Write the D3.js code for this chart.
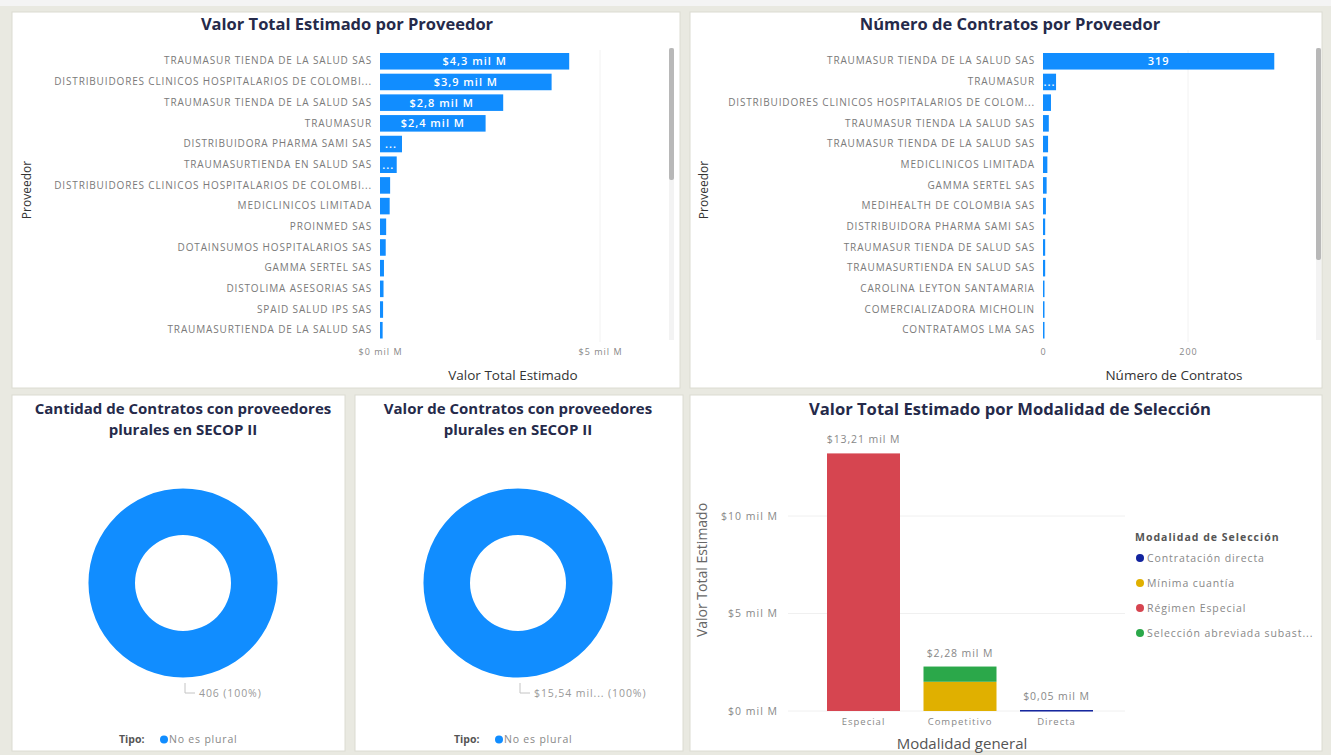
<!DOCTYPE html>
<html><head><meta charset="utf-8">
<script src="https://cdn.jsdelivr.net/npm/d3@7"></script>
<style>
body{margin:0;background:#e9e9e1;font-family:"Open Sans",sans-serif;}
svg{display:block}
</style></head><body>
<svg id="c" width="1331" height="755"></svg>
<script>
// ---------- DATA ----------
const provValor = ["TRAUMASUR TIENDA DE LA SALUD SAS","DISTRIBUIDORES CLINICOS HOSPITALARIOS DE COLOMBI...","TRAUMASUR TIENDA DE LA SALUD SAS","TRAUMASUR","DISTRIBUIDORA PHARMA SAMI SAS","TRAUMASURTIENDA EN SALUD SAS","DISTRIBUIDORES CLINICOS HOSPITALARIOS DE COLOMBI...","MEDICLINICOS LIMITADA","PROINMED SAS","DOTAINSUMOS HOSPITALARIOS SAS","GAMMA SERTEL SAS","DISTOLIMA ASESORIAS SAS","SPAID SALUD IPS SAS","TRAUMASURTIENDA DE LA SALUD SAS"];
const valorTotal = [4.3,3.9,2.8,2.4,0.5,0.38,0.23,0.22,0.14,0.13,0.09,0.08,0.07,0.06];
const valorTicks = [0,5];
const provContratos = ["TRAUMASUR TIENDA DE LA SALUD SAS","TRAUMASUR","DISTRIBUIDORES CLINICOS HOSPITALARIOS DE COLOM...","TRAUMASUR TIENDA LA SALUD SAS","TRAUMASUR TIENDA DE LA SALUD SAS","MEDICLINICOS LIMITADA","GAMMA SERTEL SAS","MEDIHEALTH DE COLOMBIA SAS","DISTRIBUIDORA PHARMA SAMI SAS","TRAUMASUR TIENDA DE SALUD SAS","TRAUMASURTIENDA EN SALUD SAS","CAROLINA LEYTON SANTAMARIA","COMERCIALIZADORA MICHOLIN","CONTRATAMOS LMA SAS"];
const numContratos = [319,18,11,8,7,6,5,4,3,3,3,2,1,1];
const contratosTicks = [0,200];
const modalidadGeneral = ["Especial","Competitivo","Directa"];
const modalidadSeleccion = ["Contratación directa","Mínima cuantía","Régimen Especial","Selección abreviada subast..."];
const contratacionDirecta = [0,0,0.05];
const minimaCuantia = [0,1.5,0];
const regimenEspecial = [13.21,0,0];
const seleccionAbreviada = [0,0.78,0];
const totalLabels = ["$13,21 mil M","$2,28 mil M","$0,05 mil M"];
const modalidadTicks = [0,5,10];
const tipoCategorias = ["No es plural"];
const cantidadPlural = [406];
const valorPlural = [15.54];
const cantidadLabel = ["406 (100%)"];
const valorLabel = ["$15,54 mil... (100%)"];

// ---------- HELPERS ----------
const svg = d3.select("#c");
const BLUE = "#118dff";
const FONT = "'Open Sans',sans-serif";
const modColors = ["#12239e","#e0b000","#d64550","#2ba84a"];
const fmtMil = v => "$" + d3.format(".1f")(v).replace(".", ",") + " mil M";

function panel(x,y,w,h){
  svg.append("rect").attr("x",x).attr("y",y).attr("width",w).attr("height",h)
    .attr("fill","#fff").attr("stroke","#dcdcd2").attr("stroke-width",1);
}
svg.append("rect").attr("x",0).attr("y",0).attr("width",1331).attr("height",6).attr("fill","#f4f4f4");
panel(12,12,668,376);
panel(690,12,632,376);
panel(12,395,333,356);
panel(355,395,328,356);
panel(690,395,632,356);

function title(x,y,t,size){
  svg.append("text").attr("x",x).attr("y",y).attr("text-anchor","middle")
    .attr("font-family",FONT).attr("font-weight",700)
    .attr("font-size",size||16.5).attr("fill","#252a4a").text(t);
}

// ---------- HORIZONTAL BAR CHART ----------
function hbar(opt){
  const g = svg.append("g");
  const idx = opt.names.map((d,i)=>i);
  const y = d3.scaleBand().domain(idx).range([53,338.5]).paddingInner(0.2);
  const x = d3.scaleLinear().domain(opt.domain).range(opt.range);
  g.selectAll("line.grid").data(opt.ticks.slice(1)).join("line")
    .attr("x1",d=>x(d)).attr("x2",d=>x(d)).attr("y1",50).attr("y2",342)
    .attr("stroke","#f2f2f2").attr("stroke-width",1);
  const ax = d3.axisLeft(y).tickSize(0).tickPadding(7).tickFormat(i=>opt.names[i]);
  const ag = g.append("g").attr("transform",`translate(${x(0)-1},0)`).call(ax);
  ag.select(".domain").remove();
  ag.selectAll("text").attr("font-family",FONT).attr("font-size",10)
    .attr("fill","#7a7a7a").attr("letter-spacing",0.85);
  g.selectAll("rect.bar").data(opt.values).join("rect")
    .attr("x",x(0)).attr("y",(d,i)=>y(i)).attr("height",y.bandwidth())
    .attr("width",d=>Math.max(1.5,x(d)-x(0))).attr("fill",BLUE);
  g.selectAll("text.lbl").data(opt.values).join("text")
    .attr("x",d=>(x(0)+x(d))/2).attr("y",(d,i)=>y(i)+y.bandwidth()/2+4)
    .attr("text-anchor","middle").attr("fill","#fff").attr("font-weight",600)
    .attr("font-size",11).attr("letter-spacing",1).attr("font-family",FONT)
    .text(d=>{const w=x(d)-x(0); const t=opt.fmt(d); return w>t.length*7+8?t:(w>12?"...":"");});
  const xa = d3.axisBottom(x).tickValues(opt.ticks).tickSize(0).tickPadding(0).tickFormat(opt.tickFmt);
  const xg = g.append("g").attr("transform","translate(0,349)").call(xa);
  xg.select(".domain").remove();
  xg.selectAll("text").attr("font-size",9).attr("letter-spacing",1).attr("fill","#888").attr("font-family",FONT);
  g.append("text").attr("x",opt.xTitleX).attr("y",380).attr("text-anchor","middle")
    .attr("font-size",13.5).attr("fill","#333").attr("font-family",FONT).text(opt.xTitle);
  g.append("text").attr("transform",`translate(${opt.yTitleX},190) rotate(-90)`).attr("text-anchor","middle")
    .attr("font-size",12).attr("fill","#333").attr("font-family",FONT).text("Proveedor");
  g.append("rect").attr("x",opt.sb).attr("y",48).attr("width",5).attr("height",292).attr("fill","#f3f3f3");
  g.append("rect").attr("x",opt.sb).attr("y",48).attr("width",5).attr("height",opt.sbH).attr("rx",2).attr("fill","#b8b8b8");
}

title(347,30,"Valor Total Estimado por Proveedor");
hbar({names:provValor,values:valorTotal,domain:[0,5],range:[380,600],ticks:valorTicks,
  fmt:fmtMil,tickFmt:d=>"$"+d+" mil M",xTitle:"Valor Total Estimado",xTitleX:513,yTitleX:31,sb:669,sbH:132});

title(1010,30,"Número de Contratos por Proveedor");
hbar({names:provContratos,values:numContratos,domain:[0,200],range:[1043,1188],ticks:contratosTicks,
  fmt:d=>String(d),tickFmt:d=>String(d),xTitle:"Número de Contratos",xTitleX:1174,yTitleX:708,sb:1316,sbH:212});

// ---------- DONUTS ----------
function donut(cx, titleLines, values, label, legendX){
  titleLines.forEach((t,i)=>title(cx,414+i*21,t,15));
  const pie = d3.pie().sort(null)(values);
  const arc = d3.arc().innerRadius(48).outerRadius(94.5);
  const g = svg.append("g").attr("transform",`translate(${cx},583)`);
  g.selectAll("path").data(pie).join("path").attr("d",arc).attr("fill",BLUE);
  g.append("path").attr("d","M2,100 L2,110 L12,110").attr("fill","none").attr("stroke","#c4c4c4").attr("stroke-width",1);
  g.append("text").attr("x",16).attr("y",114).attr("font-size",10.5).attr("letter-spacing",0.9).attr("fill","#999")
    .attr("font-family",FONT).text(label[0]);
  const lg = svg.append("g").attr("transform",`translate(${legendX},743)`);
  lg.append("text").attr("x",0).attr("y",0).attr("font-size",10.5).attr("font-weight",700).attr("fill","#555")
    .attr("font-family",FONT).text("Tipo:");
  lg.append("circle").attr("cx",45).attr("cy",-3.5).attr("r",4).attr("fill",BLUE);
  lg.append("text").attr("x",50).attr("y",0).attr("font-size",10.5).attr("letter-spacing",0.8).attr("fill","#888")
    .attr("font-family",FONT).text(tipoCategorias[0]);
}
donut(183,["Cantidad de Contratos con proveedores","plurales en SECOP II"],cantidadPlural,cantidadLabel,119);
donut(518,["Valor de Contratos con proveedores","plurales en SECOP II"],valorPlural,valorLabel,454);

// ---------- STACKED COLUMN ----------
(function(){
  title(1010,415,"Valor Total Estimado por Modalidad de Selección",16.6);
  const g = svg.append("g");
  const x = d3.scaleBand().domain(modalidadGeneral).range([815.25,1104.75]).paddingInner(0.2435).paddingOuter(0.12175);
  const y = d3.scaleLinear().domain([0,10]).range([711,516]);
  g.selectAll("line.grid").data(modalidadTicks).join("line")
    .attr("x1",788).attr("x2",1125).attr("y1",d=>y(d)).attr("y2",d=>y(d))
    .attr("stroke","#f0f0f0");
  const ya = d3.axisLeft(y).tickValues(modalidadTicks).tickSize(0).tickPadding(0).tickFormat(d=>"$"+d+" mil M");
  const yg = g.append("g").attr("transform","translate(778,0)").call(ya);
  yg.select(".domain").remove();
  yg.selectAll("text").attr("font-size",10.5).attr("letter-spacing",1).attr("fill","#888").attr("font-family",FONT);
  const rows = modalidadGeneral.map((m,i)=>({m, "Contratación directa":contratacionDirecta[i],
    "Mínima cuantía":minimaCuantia[i],"Régimen Especial":regimenEspecial[i],
    "Selección abreviada subast...":seleccionAbreviada[i]}));
  const stack = d3.stack().keys(modalidadSeleccion)(rows);
  stack.forEach((s,k)=>{
    g.selectAll(null).data(s.filter(d=>d[1]-d[0]>0)).join("rect")
      .attr("x",d=>x(d.data.m)).attr("width",x.bandwidth())
      .attr("y",d=>y(d[1])).attr("height",d=>Math.max(1.5,y(d[0])-y(d[1])))
      .attr("fill",modColors[k]);
  });
  const totals = rows.map((r,i)=>contratacionDirecta[i]+minimaCuantia[i]+regimenEspecial[i]+seleccionAbreviada[i]);
  g.selectAll("text.tot").data(totals).join("text")
    .attr("x",(d,i)=>x(modalidadGeneral[i])+x.bandwidth()/2).attr("y",d=>y(d)-10)
    .attr("text-anchor","middle").attr("font-size",10.5).attr("letter-spacing",0.9).attr("fill","#888")
    .attr("font-family",FONT).text((d,i)=>totalLabels[i]);
  const xa = d3.axisBottom(x).tickSize(0).tickPadding(7);
  const xg = g.append("g").attr("transform","translate(0,711)").call(xa);
  xg.select(".domain").remove();
  xg.selectAll("text").attr("font-size",9.5).attr("letter-spacing",1).attr("fill","#888").attr("font-family",FONT);
  g.append("text").attr("x",962).attr("y",749).attr("text-anchor","middle").attr("font-size",15)
    .attr("fill","#555").attr("font-family",FONT).text("Modalidad general");
  g.append("text").attr("transform","translate(707,570) rotate(-90)").attr("text-anchor","middle")
    .attr("font-size",14).attr("fill","#666").attr("font-family",FONT).text("Valor Total Estimado");
  const lg = g.append("g");
  lg.append("text").attr("x",1135).attr("y",541).attr("font-size",10.5).attr("letter-spacing",1).attr("font-weight",700).attr("fill","#555")
    .attr("font-family",FONT).text("Modalidad de Selección");
  modalidadSeleccion.forEach((m,i)=>{
    lg.append("circle").attr("cx",1140).attr("cy",558+i*25).attr("r",4).attr("fill",modColors[i]);
    lg.append("text").attr("x",1147).attr("y",561.5+i*25).attr("font-size",10.5).attr("letter-spacing",0.9).attr("fill","#888")
      .attr("font-family",FONT).text(m);
  });
})();
</script>
</body></html>
